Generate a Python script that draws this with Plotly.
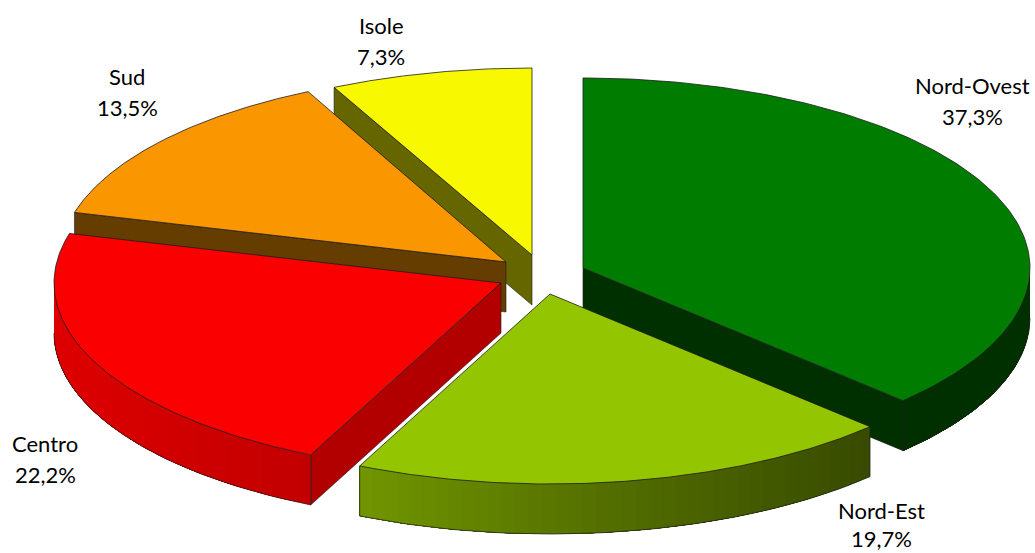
import numpy as np
import plotly.graph_objects as go

# --- data ---
regions = ["Nord-Ovest", "Nord-Est", "Centro", "Sud", "Isole"]
shares = [37.3, 19.7, 22.2, 13.5, 7.3]

# --- styles and geometry (pixels of the picture) ---
top_colors = ["#007d00", "#93c500", "#fa0000", "#fa9600", "#f8f800"]
base_rgb = [(0, 125, 0), (149, 198, 0), (255, 0, 0), (255, 153, 0), (255, 255, 0)]
apex_x = [583, 550, 501, 506, 532]
apex_y = [268, 294, 283, 262, 255]
radius_x = 447
radius_y = [190, 190, 190, 190, 187]
depth = 50
cut_shade = [0.38, 0.4, 0.7, 0.4, 0.4]
cut_edge = [1, None, 0, 0, 0]  # 0: starting edge of the slice, 1: ending edge
shade_sin = [-1, -0.43, 0, 0.7, 1]
shade_val = [0.87, 0.76, 0.6, 0.38, 0.38]
label_x = [972, 881, 45, 127, 381]
label_y = [85, 510, 443, 76, 25]
line_gap = [31, 28, 31, 31, 31]
draw_order = [4, 3, 2, 0, 1]
EDGE = "#1c1c1c"

fig = go.Figure()


def poly(xs, ys, color, line_color=None, width=0.6):
    fig.add_trace(go.Scatter(
        x=list(xs), y=list(ys), mode="lines", fill="toself", fillcolor=color,
        line=dict(color=line_color or color, width=width),
        hoverinfo="skip", showlegend=False))


def edge(xs, ys, width=0.8):
    fig.add_trace(go.Scatter(
        x=list(xs), y=list(ys), mode="lines", line=dict(color=EDGE, width=width),
        hoverinfo="skip", showlegend=False))


def shade(rgb, m):
    return "rgb(%d,%d,%d)" % tuple(round(c * m) for c in rgb)


bounds = np.concatenate([[0], np.cumsum(shares)]) / np.sum(shares) * 2 * np.pi

for i in draw_order:
    a0, a1 = bounds[i], bounds[i + 1]
    cx, cy, ry = apex_x[i], apex_y[i], radius_y[i]

    def px(t):
        return cx + radius_x * np.sin(t)

    def py(t):
        return cy - ry * np.cos(t)

    # radial cut face
    if cut_edge[i] is not None:
        t = a0 if cut_edge[i] == 0 else a1
        ex, ey = px(t), py(t)
        poly([cx, ex, ex, cx, cx], [cy, ey, ey + depth, cy + depth, cy],
             shade(base_rgb[i], cut_shade[i]), EDGE, 0.6)

    # rim, only where it faces the viewer; each band is painted over the previous one
    lo, hi = max(a0, np.pi / 2), min(a1, 3 * np.pi / 2)
    if hi > lo:
        n = max(2, int((hi - lo) / 0.03))
        ts = np.linspace(lo, hi, n + 1)
        for s0, s1 in zip(ts[:-1], ts[1:]):
            seg = np.linspace(s0, hi, 40)
            m = np.interp(np.sin((s0 + s1) / 2), shade_sin, shade_val)
            xs = np.concatenate([px(seg), px(seg[::-1])])
            ys = np.concatenate([py(seg), py(seg[::-1]) + depth])
            c = shade(base_rgb[i], m)
            poly(np.append(xs, xs[0]), np.append(ys, ys[0]), c, c, 0)
        arc = np.linspace(lo, hi, 80)
        edge(px(arc), py(arc) + depth, 0.7)
        if lo == a0:
            edge([px(lo), px(lo)], [py(lo), py(lo) + depth], 0.7)
        if hi == a1:
            edge([px(hi), px(hi)], [py(hi), py(hi) + depth], 0.7)

    # top face
    arc = np.linspace(a0, a1, 160)
    xs = np.concatenate([[cx], px(arc), [cx]])
    ys = np.concatenate([[cy], py(arc), [cy]])
    poly(xs, ys, top_colors[i], EDGE, 0.8)

for name, share, lx, ly, gap in zip(regions, shares, label_x, label_y, line_gap):
    for text, yy in ((name, ly), (f"{share:.1f}%".replace(".", ","), ly + gap)):
        fig.add_annotation(x=lx, y=yy, text=text, showarrow=False, xref="x", yref="y",
                           xanchor="center", yanchor="middle",
                           font=dict(family="Lato, Carlito, sans-serif", size=22, color="#000000"))

fig.update_layout(
    width=1035, height=553, margin=dict(l=0, r=0, t=0, b=0),
    paper_bgcolor="white", plot_bgcolor="white", showlegend=False,
    xaxis=dict(range=[0, 1035], visible=False, fixedrange=True),
    yaxis=dict(range=[553, 0], visible=False, fixedrange=True),
)
fig.write_html("out.html", config={"displayModeBar": False},
               post_script="document.body.style.margin='0';document.body.style.overflow='hidden';")
